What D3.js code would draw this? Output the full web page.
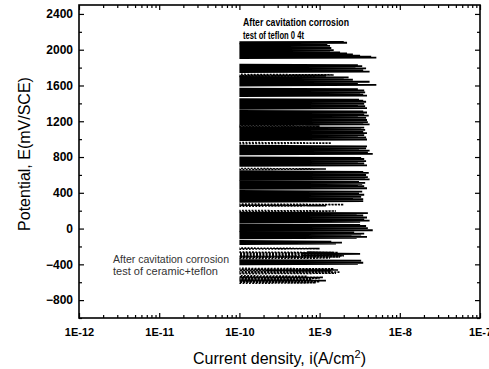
<!DOCTYPE html>
<html>
<head>
<meta charset="utf-8">
<script src="https://cdn.jsdelivr.net/npm/d3@7"></script>
<style>
  html, body { margin: 0; padding: 0; background: #fff; }
  svg { display: block; font-family: "Liberation Sans", Arial, sans-serif; }
</style>
</head>
<body>
<div id="chart"></div>
<script>
// axis ticks
const xTicks = [1e-12, 1e-11, 1e-10, 1e-9, 1e-8, 1e-7];
const xTickLabels = ['1E-12', '1E-11', '1E-10', '1E-9', '1E-8', '1E-7'];
const yTicks = [-800, -400, 0, 400, 800, 1200, 1600, 2000, 2400];

// curve after cavitation corrosion of teflon 0 4t (solid), [potential mV, current A], one array per band
const teflon = [
  [[-400,1e-10],[-394,3.0e-9],[-388,1e-10],[-382,3.5e-9],[-376,1e-10],[-370,2.6e-9],[-364,1e-10],[-358,3.3e-9],[-352,1e-10]],
  [[-300,6e-10],[-294,2.0e-9],[-288,7e-10],[-282,3.2e-9],[-276,6e-10],[-270,1.5e-9],[-264,7e-10]],
  [[-175,1e-10],[-169,1.6e-9],[-163,1e-10],[-157,1.9e-9],[-151,1e-10],[-145,1.4e-9],[-139,1e-10]],
  [[-110,1e-10],[-104,2.9e-9],[-98,1e-10],[-92,3.9e-9],[-86,1e-10],[-80,2.5e-9],[-74,1e-10],[-68,3.3e-9],[-62,1e-10],[-56,3.6e-9],[-50,1e-10],[-44,2.7e-9],[-38,1e-10]],
  [[-25,1e-10],[-19,4.6e-9],[-13,1e-10],[-7,3.5e-9],[-1,1e-10],[5,4.0e-9],[11,1e-10],[17,3.0e-9],[23,1e-10],[29,3.8e-9],[35,1e-10],[41,3.2e-9],[47,1e-10]],
  [[70,1e-10],[76,3.2e-9],[82,1e-10],[88,4.2e-9],[94,1e-10],[100,3.6e-9],[106,1e-10],[112,2.8e-9],[118,1e-10],[124,3.9e-9],[130,1e-10],[136,3.2e-9],[142,1e-10],[148,3.5e-9],[154,1e-10],[160,2.9e-9],[166,1e-10],[172,4.0e-9],[178,1e-10]],
  [[300,1e-10],[306,3.5e-9],[312,1e-10],[318,3.0e-9],[324,1e-10],[330,3.5e-9],[336,1e-10],[342,2.6e-9],[348,1e-10],[354,3.3e-9],[360,1e-10],[366,2.9e-9],[372,1e-10],[378,3.6e-9],[384,1e-10],[390,3.1e-9],[396,1e-10],[402,2.7e-9],[408,1e-10],[414,3.4e-9],[420,1e-10]],
  [[445,1e-10],[451,3.9e-9],[457,1e-10],[463,3.2e-9],[469,1e-10],[475,3.6e-9],[481,1e-10],[487,3.0e-9],[493,1e-10],[499,3.4e-9],[505,1e-10],[511,3.7e-9],[517,1e-10],[523,3.1e-9],[529,1e-10]],
  [[545,1e-10],[551,4.2e-9],[557,1e-10],[563,3.7e-9],[569,1e-10],[575,4.0e-9],[581,1e-10],[587,3.0e-9],[593,1e-10],[599,3.8e-9],[605,1e-10],[611,3.3e-9],[617,1e-10],[623,4.1e-9],[629,1e-10],[635,3.5e-9],[641,1e-10]],
  [[700,1e-10],[706,3.9e-9],[712,1e-10],[718,3.4e-9],[724,1e-10],[730,3.6e-9],[736,1e-10],[742,3.0e-9],[748,1e-10],[754,3.8e-9],[760,1e-10],[766,3.2e-9],[772,1e-10],[778,3.6e-9],[784,1e-10],[790,3.3e-9],[796,1e-10]],
  [[830,1e-10],[836,4.6e-9],[842,1e-10],[848,4.0e-9],[854,1e-10],[860,3.5e-9],[866,1e-10],[872,4.2e-9],[878,1e-10],[884,3.1e-9],[890,1e-10],[896,3.8e-9],[902,1e-10],[908,3.4e-9],[914,1e-10],[920,3.9e-9],[926,1e-10]],
  [[990,1e-10],[996,3.9e-9],[1002,1e-10],[1008,3.4e-9],[1014,1e-10],[1020,3.8e-9],[1026,1e-10],[1032,3.0e-9],[1038,1e-10],[1044,3.6e-9],[1050,1e-10],[1056,3.2e-9],[1062,1e-10],[1068,3.9e-9],[1074,1e-10],[1080,3.5e-9],[1086,1e-10],[1092,2.9e-9],[1098,1e-10],[1104,3.7e-9],[1110,1e-10],[1116,3.3e-9],[1122,1e-10],[1128,3.6e-9],[1134,1e-10]],
  [[1160,1e-10],[1166,4.2e-9],[1172,1e-10],[1178,3.5e-9],[1184,1e-10],[1190,4.0e-9],[1196,1e-10],[1202,3.2e-9],[1208,1e-10],[1214,3.9e-9],[1220,1e-10],[1226,3.4e-9],[1232,1e-10],[1238,3.8e-9],[1244,1e-10],[1250,3.0e-9],[1256,1e-10],[1262,4.1e-9],[1268,1e-10],[1274,3.6e-9],[1280,1e-10],[1286,3.3e-9],[1292,1e-10],[1298,3.9e-9],[1304,1e-10],[1310,3.5e-9],[1316,1e-10]],
  [[1340,1e-10],[1346,3.9e-9],[1352,1e-10],[1358,3.4e-9],[1364,1e-10],[1370,3.7e-9],[1376,1e-10],[1382,3.0e-9],[1388,1e-10],[1394,3.6e-9],[1400,1e-10],[1406,3.2e-9],[1412,1e-10],[1418,3.8e-9],[1424,1e-10],[1430,3.5e-9],[1436,1e-10],[1442,3.1e-9],[1448,1e-10]],
  [[1480,1e-10],[1486,3.9e-9],[1492,1e-10],[1498,3.5e-9],[1504,1e-10],[1510,3.2e-9],[1516,1e-10],[1522,3.7e-9],[1528,1e-10],[1534,3.4e-9],[1540,1e-10],[1546,3.6e-9],[1552,1e-10],[1558,3.0e-9],[1564,1e-10]],
  [[1600,1e-10],[1606,5.1e-9],[1612,1e-10],[1618,3.0e-9],[1624,1e-10],[1630,2.4e-9],[1636,1e-10],[1642,4.2e-9],[1648,1e-10],[1654,2.2e-9],[1660,1e-10],[1666,2.6e-9],[1672,1e-10],[1678,2.0e-9],[1684,1e-10],[1690,2.3e-9],[1696,1e-10]],
  [[1750,1e-10],[1756,4.2e-9],[1762,1e-10],[1768,3.5e-9],[1774,1e-10],[1780,3.2e-9],[1786,1e-10],[1792,3.8e-9],[1798,1e-10],[1804,2.8e-9],[1810,1e-10],[1816,3.4e-9],[1822,1e-10],[1828,3.0e-9],[1834,1e-10]],
  [[1905,1e-10],[1911,5.1e-9],[1917,1e-10],[1923,4.4e-9],[1929,1e-10],[1935,3.2e-9],[1941,1e-10],[1947,2.6e-9],[1953,1e-10],[1959,2.2e-9],[1965,1e-10],[1971,1.8e-9],[1977,1e-10],[1983,1.35e-9],[1989,1e-10],[1995,1.5e-9],[2001,1e-10],[2007,1.3e-9],[2013,1e-10],[2019,1.4e-9],[2025,1e-10],[2031,1.2e-9],[2037,1e-10],[2043,1.35e-9],[2049,1e-10],[2055,1.25e-9],[2061,1e-10]],
  [[2072,1e-10],[2078,2.2e-9],[2084,1e-10],[2088,2.0e-9]]
];

// curve after cavitation corrosion of ceramic+teflon (dotted)
const ceramicTeflon = [
  [[-612,1e-10],[-606,9.0e-10],[-600,1e-10],[-594,1.0e-9],[-588,1e-10],[-582,1.2e-9],[-576,1e-10],[-570,8.0e-10],[-564,1e-10],[-558,1.0e-9],[-552,1e-10],[-546,1.1e-9],[-540,1e-10],[-534,7.0e-10],[-528,1e-10]],
  [[-505,1e-10],[-499,1.6e-9],[-493,1e-10],[-487,1.8e-9],[-481,1e-10],[-475,1.4e-9],[-469,1e-10],[-463,1.7e-9],[-457,1e-10],[-451,1.5e-9],[-445,1e-10]],
  [[-335,1e-10],[-329,1.35e-9],[-323,1e-10],[-317,1.8e-9],[-311,1e-10],[-305,2.0e-9],[-299,1e-10],[-293,1.5e-9],[-287,1e-10],[-281,1.2e-9],[-275,1e-10],[-269,1.7e-9],[-263,1e-10]],
  [[-230,1e-10],[-224,1.0e-9],[-218,1e-10]],
  [[190,1e-10],[196,1.6e-9],[202,1e-10]],
  [[250,1e-10],[256,1.2e-9],[262,1e-10],[268,2.0e-9],[274,1e-10]],
  [[660,1e-10],[666,1.2e-9],[672,1e-10]],
  [[950,1e-10],[956,1.4e-9],[962,1e-10]],
  [[1140,1e-10],[1146,1.0e-9],[1152,1e-10]],
  [[1700,1e-10],[1706,1.2e-9],[1712,1e-10],[1718,1.5e-9],[1724,1e-10]]
];

const width = 489, height = 369;
const plot = { left: 79, right: 480, top: 5, bottom: 318 };

const svg = d3.select('#chart').append('svg')
  .attr('width', width)
  .attr('height', height);

svg.append('rect').attr('width', width).attr('height', height).attr('fill', '#fff');

const x = d3.scaleLog().domain([1e-12, 1e-7]).range([plot.left, plot.right]);
const y = d3.scaleLinear().domain([-1000, 2500]).range([plot.bottom, plot.top]);

//
// curves
//
const line = d3.line()
  .x(d => x(d[1]))
  .y(d => y(d[0]));

svg.append('g')
  .selectAll('path')
  .data(teflon)
  .enter()
  .append('path')
  .attr('d', line)
  .attr('fill', 'none')
  .attr('stroke', '#000')
  .attr('stroke-width', 1.8);

svg.append('g')
  .selectAll('path')
  .data(ceramicTeflon)
  .enter()
  .append('path')
  .attr('d', line)
  .attr('fill', 'none')
  .attr('stroke', '#000')
  .attr('stroke-width', 1.6)
  .attr('stroke-dasharray', '1.8,1.4');

//
// axes, ticks pointing inward on all four sides
//
const xMinor = x.ticks().filter(t => !xTicks.some(m => Math.abs(m - t) / m < 1e-6));
const yMinor = y.ticks(17).filter(t => !yTicks.includes(t));

function styleAxis(g) {
  g.select('.domain').remove();
  g.selectAll('line').attr('stroke', '#000').attr('stroke-width', 1.2);
}

// bottom
svg.append('g')
  .attr('transform', `translate(0,${plot.bottom})`)
  .call(d3.axisBottom(x).tickValues(xTicks).tickSize(-5).tickPadding(10)
    .tickFormat((d, i) => xTickLabels[i]))
  .call(styleAxis)
  .call(g => g.selectAll('text').attr('font-size', 11).attr('font-weight', 'bold').attr('fill', '#000'));
svg.append('g')
  .attr('transform', `translate(0,${plot.bottom})`)
  .call(d3.axisBottom(x).tickValues(xMinor).tickSize(-3).tickFormat(''))
  .call(styleAxis);

// top
svg.append('g')
  .attr('transform', `translate(0,${plot.top})`)
  .call(d3.axisTop(x).tickValues(xTicks).tickSize(-5).tickFormat(''))
  .call(styleAxis);
svg.append('g')
  .attr('transform', `translate(0,${plot.top})`)
  .call(d3.axisTop(x).tickValues(xMinor).tickSize(-3).tickFormat(''))
  .call(styleAxis);

// left
svg.append('g')
  .attr('transform', `translate(${plot.left},0)`)
  .call(d3.axisLeft(y).tickValues(yTicks).tickSize(-5).tickPadding(6).tickFormat(d3.format('d')))
  .call(styleAxis)
  .call(g => g.selectAll('text').attr('font-size', 12).attr('font-weight', 'bold').attr('fill', '#000'));
svg.append('g')
  .attr('transform', `translate(${plot.left},0)`)
  .call(d3.axisLeft(y).tickValues(yMinor).tickSize(-3).tickFormat(''))
  .call(styleAxis);

// right
svg.append('g')
  .attr('transform', `translate(${plot.right},0)`)
  .call(d3.axisRight(y).tickValues(yTicks).tickSize(-5).tickFormat(''))
  .call(styleAxis);
svg.append('g')
  .attr('transform', `translate(${plot.right},0)`)
  .call(d3.axisRight(y).tickValues(yMinor).tickSize(-3).tickFormat(''))
  .call(styleAxis);

// frame
svg.append('rect')
  .attr('x', plot.left)
  .attr('y', plot.top)
  .attr('width', plot.right - plot.left)
  .attr('height', plot.bottom - plot.top)
  .attr('fill', 'none')
  .attr('stroke', '#000')
  .attr('stroke-width', 1.6);

//
// titles
//
svg.append('text')
  .attr('x', (plot.left + plot.right) / 2)
  .attr('y', 364)
  .attr('text-anchor', 'middle')
  .attr('font-size', 16)
  .html('Current density, i(A/cm<tspan dy="-6" font-size="11">2</tspan><tspan dy="6">)</tspan>');

svg.append('text')
  .attr('transform', 'translate(30,154) rotate(-90)')
  .attr('text-anchor', 'middle')
  .attr('font-size', 16)
  .text('Potential, E(mV/SCE)');

//
// annotations
//
const notes = [
  { x: 243, y: 26, text: 'After cavitation corrosion', len: 106, size: 11, weight: 'bold', color: '#000' },
  { x: 243, y: 38.5, text: 'test of teflon 0 4t', len: 61, size: 11, weight: 'bold', color: '#000' },
  { x: 113, y: 263, text: 'After cavitation corrosion', len: 116, size: 10.5, weight: 'normal', color: '#333' },
  { x: 113, y: 275, text: 'test of ceramic+teflon', len: 105, size: 10.5, weight: 'normal', color: '#333' }
];

svg.append('g')
  .selectAll('text')
  .data(notes)
  .enter()
  .append('text')
  .attr('x', d => d.x)
  .attr('y', d => d.y)
  .attr('font-size', d => d.size)
  .attr('font-weight', d => d.weight)
  .attr('fill', d => d.color)
  .attr('textLength', d => d.len)
  .attr('lengthAdjust', 'spacingAndGlyphs')
  .text(d => d.text);
</script>
</body>
</html>
